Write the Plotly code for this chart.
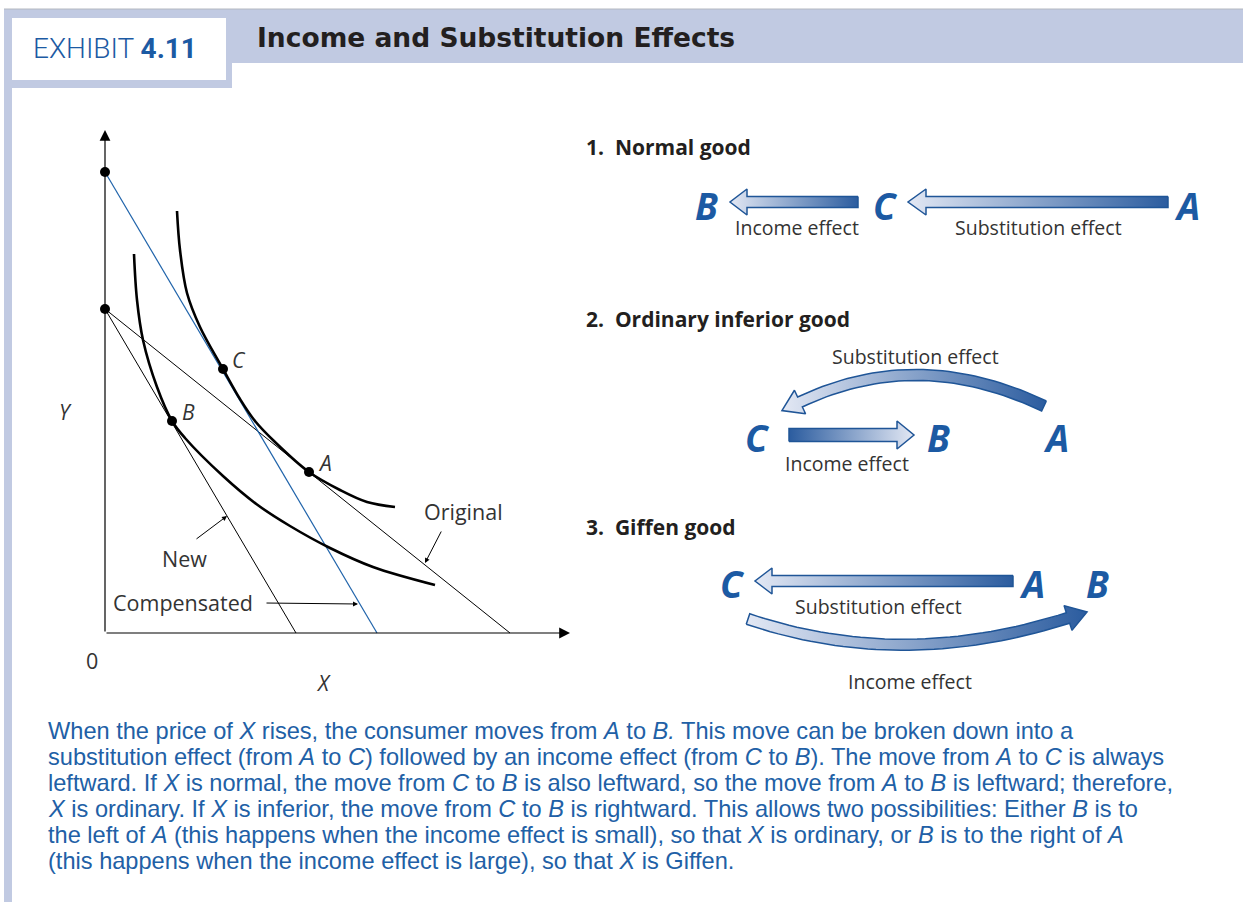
import numpy as np
import plotly.graph_objects as go

W, H = 1243, 902

# Budget lines (X, Y quantities)
budget_original_x = [0, 40.5]
budget_original_y = [32.4, 0]
budget_new_x = [0, 19.1]
budget_new_y = [32.4, 0]
budget_comp_x = [0, 27.2]
budget_comp_y = [46.1, 0]

# Indifference curves
ic_original_x = [7.2, 7.5, 8.2, 9.5, 11.8, 13.5, 15.0, 17.0, 20.4, 23.5, 26.2, 29.0]
ic_original_y = [42.2, 38.3, 34.0, 30.6, 26.4, 23.4, 21.2, 19.1, 16.1, 14.3, 13.1, 12.6]
ic_new_x = [2.9, 3.2, 3.8, 5.2, 6.7, 8.0, 11.8, 15.2, 18.5, 22.5, 26.8, 33.0]
ic_new_y = [37.9, 33.3, 29.3, 24.6, 21.2, 19.5, 15.7, 12.85, 10.7, 8.5, 6.6, 4.8]

# Marked bundles and intercepts
point_names = ["A", "B", "C"]
point_x = [20.4, 6.7, 11.8]
point_y = [16.1, 21.2, 26.4]
intercept_y = [46.1, 32.4]

BLUE = "#1c5aa3"
DARK = "#231f20"
BAND = "#c1cae2"
GRAD_LIGHT = "#e3e8f4"
GRAD_DARK = "#2b5c9f"
OUTLINE = "#1f5597"

fig = go.Figure()

# ---------- left diagram ----------
line_style = dict(color="black", width=1)
fig.add_trace(go.Scatter(x=budget_original_x, y=budget_original_y, mode="lines", line=line_style))
fig.add_trace(go.Scatter(x=budget_new_x, y=budget_new_y, mode="lines", line=line_style))
fig.add_trace(go.Scatter(x=budget_comp_x, y=budget_comp_y, mode="lines",
                         line=dict(color="#1f63aa", width=1.2)))
fig.add_trace(go.Scatter(x=ic_original_x, y=ic_original_y, mode="lines",
                         line=dict(color="black", width=2.6, shape="spline", smoothing=1)))
fig.add_trace(go.Scatter(x=ic_new_x, y=ic_new_y, mode="lines",
                         line=dict(color="black", width=2.6, shape="spline", smoothing=1)))
fig.add_trace(go.Scatter(x=point_x + [0, 0], y=point_y + intercept_y, mode="markers",
                         marker=dict(color="black", size=10)))


def arrow(x, y, ax, ay, size=1.0, width=1.0):
    fig.add_annotation(x=x, y=y, ax=ax, ay=ay, xref="x", yref="y", axref="x", ayref="y",
                       text="", showarrow=True, arrowhead=2, arrowsize=size,
                       arrowwidth=width, arrowcolor="black", standoff=0, startstandoff=0)


# axes with arrow tips
arrow(46.5, 0, 0, 0, size=1.8, width=1.2)
arrow(0, 50.3, 0, 0, size=1.8, width=1.2)
# pointers
arrow(32.0, 7.0, 33.7, 10.3)
arrow(12.2, 11.7, 9.0, 9.3)
arrow(25.3, 2.9, 16.0, 3.0)

label_font = dict(family="Open Sans", size=21.5, color="#333333")
ital_font = dict(family="Open Sans", size=21, color="#333333", style="italic")
for name, px_, py_ in zip(point_names, point_x, point_y):
    fig.add_annotation(x=px_ + 1.6, y=py_ + 0.9, text=name, showarrow=False, font=ital_font,
                       xref="x", yref="y")
fig.add_annotation(x=-4.0, y=22.1, text="Y", showarrow=False, font=ital_font, xref="x", yref="y")
fig.add_annotation(x=21.8, y=-5.0, text="X", showarrow=False, font=ital_font, xref="x", yref="y")
fig.add_annotation(x=-1.3, y=-2.7, text="0", showarrow=False, font=label_font, xref="x", yref="y")
fig.add_annotation(x=35.8, y=12.2, text="Original", showarrow=False, font=label_font, xref="x", yref="y")
fig.add_annotation(x=7.9, y=7.5, text="New", showarrow=False, font=label_font, xref="x", yref="y")
fig.add_annotation(x=7.8, y=3.1, text="Compensated", showarrow=False, font=label_font, xref="x", yref="y")

# ---------- header / frame (pixel axes x2, y2) ----------
def rect(x0, y0, x1, y1, color):
    fig.add_shape(type="rect", x0=x0, y0=y0, x1=x1, y1=y1, xref="x2", yref="y2",
                  fillcolor=color, line=dict(width=0), layer="below")


rect(4, 9, W, 63, BAND)
rect(4, 9, 232, 88, BAND)
rect(4, 9, 12, H, BAND)
rect(12, 18, 226, 80, "white")
fig.add_shape(type="line", x0=4, x1=W, y0=9, y1=9, xref="x2", yref="y2",
              line=dict(color="#b4b8c0", width=1))

fig.add_annotation(x=31, y=48, xref="x2", yref="y2", xanchor="left", showarrow=False,
                   text="EXHIBIT <b>4.11</b>",
                   font=dict(family="Roboto", size=28, color=BLUE, weight=300))
fig.add_annotation(x=255, y=37, xref="x2", yref="y2", xanchor="left", showarrow=False,
                   text="Income and Substitution Effects",
                   font=dict(family="DejaVu Sans", size=26.5, color=DARK, weight="bold"))

# ---------- right panel: block arrows ----------
def block_arrow(p0, p1, p2, half_w, head_w, head_len, light_left=True, n=40):
    p0, p1, p2 = np.array(p0, float), np.array(p1, float), np.array(p2, float)
    t = np.linspace(0, 1, n)[:, None]
    pts = (1 - t) ** 2 * p0 + 2 * (1 - t) * t * p1 + t ** 2 * p2
    d = 2 * (1 - t) * (p1 - p0) + 2 * t * (p2 - p1)
    d = d / np.linalg.norm(d, axis=1)[:, None]
    nrm = np.column_stack([-d[:, 1], d[:, 0]])
    left = pts + half_w * nrm
    right = pts - half_w * nrm
    tip = p2 + head_len * d[-1]
    head = np.array([p2 + head_w * nrm[-1], tip, p2 - head_w * nrm[-1]])
    poly = np.vstack([left, head, right[::-1], left[:1]])
    scale = [[0, GRAD_LIGHT], [1, GRAD_DARK]] if light_left else [[0, GRAD_DARK], [1, GRAD_LIGHT]]
    fig.add_trace(go.Scatter(x=poly[:, 0], y=poly[:, 1], xaxis="x2", yaxis="y2", mode="lines",
                             fill="toself", line=dict(color=OUTLINE, width=1.5),
                             fillgradient=dict(type="horizontal", colorscale=scale)))


def straight(tail, base, y, **kw):
    block_arrow((tail, y), ((tail + base) / 2, y), (base, y), **kw)


# 1. Normal good
straight(858, 747, 202, half_w=5.5, head_w=13, head_len=17)
straight(1168, 926, 202, half_w=5.5, head_w=13, head_len=18)
# 2. Ordinary inferior good
block_arrow((1044, 406), (918, 346), (800, 402), half_w=5.5, head_w=13, head_len=20)
straight(789, 897, 435, half_w=6.5, head_w=14, head_len=17, light_left=False)
# 3. Giffen good
straight(1013, 772, 581, half_w=5.5, head_w=13, head_len=17)
block_arrow((748, 619), (902, 671), (1068, 618), half_w=5.5, head_w=13, head_len=20)

heading_font = dict(family="Open Sans", size=21, color=DARK, weight="bold")
effect_font = dict(family="Open Sans", size=19.5, color="#333333")
letter_font = dict(family="Open Sans", size=37, color=BLUE, weight="bold", style="italic")

headings = ["1.  Normal good", "2.  Ordinary inferior good", "3.  Giffen good"]
heading_y = [147, 319, 527]
for text, hy in zip(headings, heading_y):
    fig.add_annotation(x=584, y=hy, xref="x2", yref="y2", xanchor="left", showarrow=False,
                       text=text, font=heading_font)

letters = ["B", "C", "A", "C", "B", "A", "C", "A", "B"]
letter_x = [706, 885, 1187, 757, 938, 1056, 732, 1032, 1097]
letter_y = [205, 205, 205, 437, 437, 437, 583, 583, 583]
for text, lx, ly in zip(letters, letter_x, letter_y):
    fig.add_annotation(x=lx, y=ly, xref="x2", yref="y2", showarrow=False, text=text, font=letter_font)

effects = ["Income effect", "Substitution effect", "Substitution effect", "Income effect",
           "Substitution effect", "Income effect"]
effect_x = [797, 1038, 915, 847, 878, 910]
effect_y = [227, 227, 356, 463, 606, 681]
for text, ex, ey in zip(effects, effect_x, effect_y):
    fig.add_annotation(x=ex, y=ey, xref="x2", yref="y2", showarrow=False, text=text, font=effect_font)

# ---------- caption ----------
caption = [
    "When the price of <i>X</i> rises, the consumer moves from <i>A</i> to <i>B.</i> This move can be broken down into a",
    "substitution effect (from <i>A</i> to <i>C</i>) followed by an income effect (from <i>C</i> to <i>B</i>). The move from <i>A</i> to <i>C</i> is always",
    "leftward. If <i>X</i> is normal, the move from <i>C</i> to <i>B</i> is also leftward, so the move from <i>A</i> to <i>B</i> is leftward; therefore,",
    "<i>X</i> is ordinary. If <i>X</i> is inferior, the move from <i>C</i> to <i>B</i> is rightward. This allows two possibilities: Either <i>B</i> is to",
    "the left of <i>A</i> (this happens when the income effect is small), so that <i>X</i> is ordinary, or <i>B</i> is to the right of <i>A</i>",
    "(this happens when the income effect is large), so that <i>X</i> is Giffen.",
]
caption_y = [731, 757, 783, 809, 835, 861]
for text, cy in zip(caption, caption_y):
    fig.add_annotation(x=46, y=cy, xref="x2", yref="y2", xanchor="left", showarrow=False,
                       text=text, font=dict(family="Liberation Sans", size=23.6, color="#2160a6"))

hidden = dict(visible=False, showgrid=False, zeroline=False, fixedrange=True)
fig.update_layout(
    width=W, height=H, margin=dict(l=0, r=0, t=0, b=0),
    paper_bgcolor="white", plot_bgcolor="white", showlegend=False,
    xaxis=dict(range=[-10.5, 113.8], domain=[0, 1], **hidden),
    yaxis=dict(range=[-26.9, 63.3], domain=[0, 1], **hidden),
    xaxis2=dict(range=[0, W], domain=[0, 1], overlaying="x", anchor="y2", **hidden),
    yaxis2=dict(range=[H, 0], domain=[0, 1], overlaying="y", anchor="x2", **hidden),
)

fig.write_html("out.html", config={"displayModeBar": False},
               post_script="document.body.style.margin='0';")
